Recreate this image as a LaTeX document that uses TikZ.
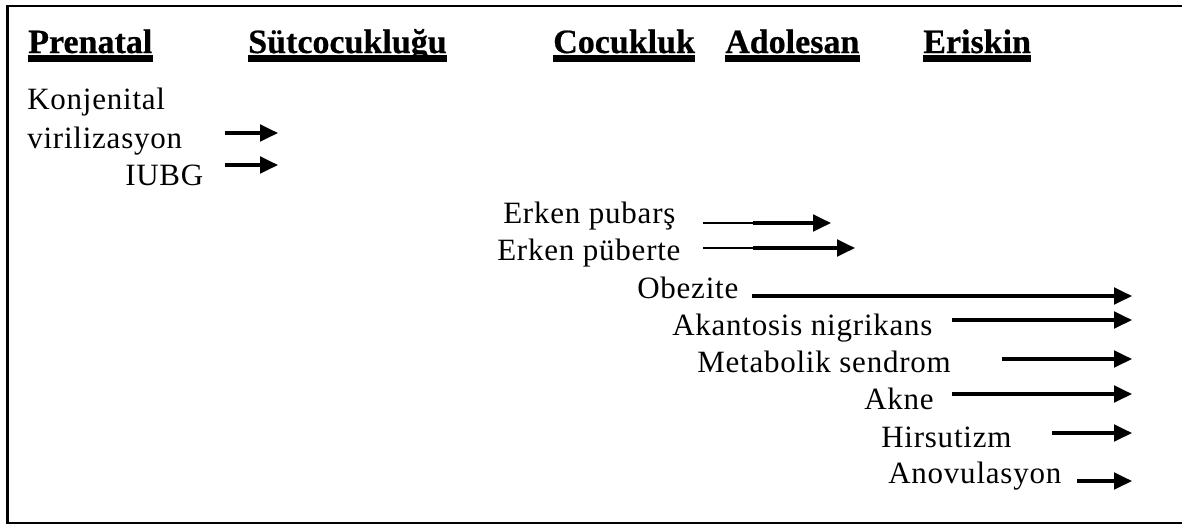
\documentclass[tikz,border=0pt]{standalone}
\usepackage{fontspec}
\setmainfont{Liberation Serif}
\newfontfamily\bodyfont[LetterSpace=2.5]{Liberation Serif}
\newfontfamily\headfont[FakeBold=0.6]{Liberation Serif}
\usetikzlibrary{arrows.meta}

\begin{document}
\begin{tikzpicture}[x=0.75pt,y=-0.75pt,
  lbl/.style={anchor=base west,inner sep=0pt,
    font=\bodyfont\fontsize{23.25pt}{29pt}\selectfont},
  head/.style={anchor=base west,inner sep=0pt,
    font=\headfont\bfseries\fontsize{25.5pt}{30pt}\selectfont},
  uline/.style={line width=5pt},
  frame/.style={line width=1.9pt},
  arr/.style={line width=2.5pt,-{Triangle[length=13.5pt,width=12.5pt]}},
  thin/.style={line width=1.1pt}]

\useasboundingbox (0,0) rectangle (1182,525);

% open frame: top, left and bottom edges
\draw[frame] (1182,6) -- (7.5,6) -- (7.5,523) -- (1182,523);

% period headings
\node[head] (hPre) at (28,53)  {Prenatal};
\node[head] (hSut) at (248,53) {Sütcocukluğu};
\node[head] (hCoc) at (553,53) {Cocukluk};
\node[head] (hAdo) at (725,53) {Adolesan};
\node[head] (hEri) at (923,53) {Eriskin};
\foreach \h in {hPre,hSut,hCoc,hAdo,hEri}
  \draw[uline] (\h.west |- 0,58.5) -- (\h.east |- 0,58.5);

% findings
\node[lbl] (konj)  at (27,109)  {Konjenital};
\node[lbl] (viril) at (27,148)  {virilizasyon};
\node[lbl] (iubg)  at (125,185) {IUBG};
\node[lbl] (pub)   at (503,223) {Erken pubarş};
\node[lbl] (pube)  at (497,260) {Erken püberte};
\node[lbl] (obez)  at (637,298) {Obezite};
\node[lbl] (akan)  at (672,335) {Akantosis nigrikans};
\node[lbl] (meta)  at (697,372) {Metabolik sendrom};
\node[lbl] (akne)  at (864,409) {Akne};
\node[lbl] (hirs)  at (881,447) {Hirsutizm};
\node[lbl] (anov)  at (888,483) {Anovulasyon};

% arrow end points
\coordinate (virS) at (225,133);  \coordinate (virE) at (278,133);
\coordinate (iubS) at (225,165);  \coordinate (iubE) at (278,165);
\coordinate (pubS) at (703,223);  \coordinate (pubM) at (753,223);  \coordinate (pubE) at (831,223);
\coordinate (pbeS) at (703,248);  \coordinate (pbeM) at (753,248);  \coordinate (pbeE) at (855,248);
\coordinate (obzS) at (752,296);  \coordinate (obzE) at (1132,296);
\coordinate (aknS) at (952,320);  \coordinate (aknE) at (1132,320);
\coordinate (metS) at (1002,359); \coordinate (metE) at (1132,359);
\coordinate (akeS) at (952,394);  \coordinate (akeE) at (1132,394);
\coordinate (hirS) at (1052,433); \coordinate (hirE) at (1132,433);
\coordinate (anoS) at (1077,481); \coordinate (anoE) at (1132,481);

% arrows
\draw[arr] (virS) -- (virE);
\draw[arr] (iubS) -- (iubE);
\draw[thin] (pubS) -- (pubM);
\draw[arr] (pubM) -- (pubE);
\draw[thin] (pbeS) -- (pbeM);
\draw[arr] (pbeM) -- (pbeE);
\draw[arr] (obzS) -- (obzE);
\draw[arr] (aknS) -- (aknE);
\draw[arr] (metS) -- (metE);
\draw[arr] (akeS) -- (akeE);
\draw[arr] (hirS) -- (hirE);
\draw[arr] (anoS) -- (anoE);
\end{tikzpicture}
\end{document}
